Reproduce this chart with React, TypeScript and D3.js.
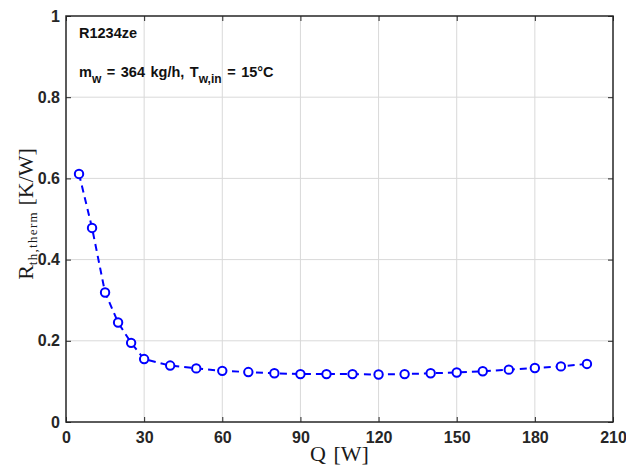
import React, { useEffect, useRef } from 'react'
import * as d3 from 'd3'

// heat load Q [W] and thermal resistance R [K/W]
const heatLoad = [5, 10, 15, 20, 25, 30, 40, 50, 60, 70, 80, 90, 100, 110, 120, 130, 140, 150, 160, 170, 180, 190, 200]
const resistance = [0.611, 0.478, 0.319, 0.245, 0.195, 0.155, 0.139, 0.132, 0.126, 0.123, 0.12, 0.118, 0.118, 0.118, 0.117, 0.118, 0.12, 0.122, 0.125, 0.129, 0.133, 0.137, 0.143]
const xTicks = [0, 30, 60, 90, 120, 150, 180, 210]
const yTicks = [0, 0.2, 0.4, 0.6, 0.8, 1]

const App = () => {
  const ref = useRef<SVGSVGElement>(null)

  useEffect(() => {
    const svg = d3.select(ref.current)
    svg.selectAll('*').remove()

    const left = 66
    const right = 613
    const top = 16
    const bottom = 422

    const x = d3.scaleLinear().domain([0, 210]).range([left, right])
    const y = d3.scaleLinear().domain([0, 1]).range([bottom, top])

    // grid
    const grid = svg.append('g')
    grid.selectAll('.gx')
      .data(xTicks.slice(1, -1))
      .enter()
      .append('line')
      .attr('x1', (d) => x(d))
      .attr('x2', (d) => x(d))
      .attr('y1', top)
      .attr('y2', bottom)
      .attr('stroke', '#d9d9d9')
      .attr('stroke-width', 1)
    grid.selectAll('.gy')
      .data(yTicks.slice(1, -1))
      .enter()
      .append('line')
      .attr('x1', left)
      .attr('x2', right)
      .attr('y1', (d) => y(d))
      .attr('y2', (d) => y(d))
      .attr('stroke', '#d9d9d9')
      .attr('stroke-width', 1)

    // axes with inward ticks
    const axisColor = '#262626'
    const xAxis = svg.append('g')
      .attr('transform', `translate(0, ${bottom})`)
      .call(d3.axisBottom(x).tickValues(xTicks).tickSize(-5).tickPadding(10).tickFormat(d3.format('d')))
    const xTop = svg.append('g')
      .attr('transform', `translate(0, ${top})`)
      .call(d3.axisTop(x).tickValues(xTicks).tickSize(-5).tickFormat(() => ''))
    const yAxis = svg.append('g')
      .attr('transform', `translate(${left}, 0)`)
      .call(d3.axisLeft(y).tickValues(yTicks).tickSize(-5).tickPadding(6).tickFormat((d) => String(+d)))
    const yRight = svg.append('g')
      .attr('transform', `translate(${right}, 0)`)
      .call(d3.axisRight(y).tickValues(yTicks).tickSize(-5).tickFormat(() => ''))

    ;[xAxis, xTop, yAxis, yRight].forEach((g) => {
      g.select('.domain').remove()
      g.selectAll('line').attr('stroke', axisColor).attr('stroke-width', 1)
      g.selectAll('text')
        .attr('fill', axisColor)
        .style('font-family', 'Liberation Sans, Arial, sans-serif')
        .style('font-weight', 'bold')
        .style('font-size', '16px')
    })

    svg.append('rect')
      .attr('x', left)
      .attr('y', top)
      .attr('width', right - left)
      .attr('height', bottom - top)
      .attr('fill', 'none')
      .attr('stroke', axisColor)
      .attr('stroke-width', 1.5)

    // data
    const pts = heatLoad.map((q, i) => [q, resistance[i]] as [number, number])
    const line = d3.line<[number, number]>()
      .x((d) => x(d[0]))
      .y((d) => y(d[1]))
      .curve(d3.curveLinear)
    svg.append('path')
      .datum(pts)
      .attr('d', line)
      .attr('fill', 'none')
      .attr('stroke', '#0000ff')
      .attr('stroke-width', 2)
      .attr('stroke-dasharray', '7,5')
    svg.append('g')
      .selectAll('circle')
      .data(pts)
      .enter()
      .append('circle')
      .attr('cx', (d) => x(d[0]))
      .attr('cy', (d) => y(d[1]))
      .attr('r', 4.2)
      .attr('fill', '#fff')
      .attr('stroke', '#0000ff')
      .attr('stroke-width', 2)

    // annotations
    const ann = svg.append('g')
      .style('font-family', 'Liberation Sans, Arial, sans-serif')
      .style('font-weight', 'bold')
      .style('font-size', '14.5px')
      .attr('fill', '#111')
    ann.append('text').attr('x', 79).attr('y', 38).text('R1234ze')
    const t2 = ann.append('text').attr('x', 79).attr('y', 77).attr('word-spacing', '1.5px')
    t2.append('tspan').text('m')
    t2.append('tspan').attr('dy', 6).style('font-size', '12px').text('w')
    t2.append('tspan').attr('dy', -6).text(' = 364 kg/h, T')
    t2.append('tspan').attr('dy', 6).style('font-size', '12px').text('w,in')
    t2.append('tspan').attr('dy', -6).text(' = 15°C')

    // axis labels
    const serif = 'Liberation Serif, Times New Roman, serif'
    svg.append('text')
      .attr('x', x(105))
      .attr('y', 461)
      .attr('text-anchor', 'middle')
      .style('font-family', serif)
      .style('font-size', '22px')
      .attr('fill', '#1a1a1a')
      .attr('word-spacing', '2px')
      .text('Q [W]')

    const yl = svg.append('text')
      .attr('transform', `translate(33, 214) rotate(-90)`)
      .attr('text-anchor', 'middle')
      .style('font-family', serif)
      .style('font-size', '22px')
      .attr('fill', '#1a1a1a')
    yl.append('tspan').text('R')
    yl.append('tspan').attr('dy', 4).style('font-size', '13px').attr('letter-spacing', '1.3px').text('th,therm')
    yl.append('tspan').attr('dy', -4).text(' [K/W]')
  }, [])

  return (
    <div style={{ position: 'absolute', left: 0, top: 0 }}>
      <svg ref={ref} width={626} height={473} style={{ display: 'block', background: '#fff' }} />
    </div>
  )
}

export default App
